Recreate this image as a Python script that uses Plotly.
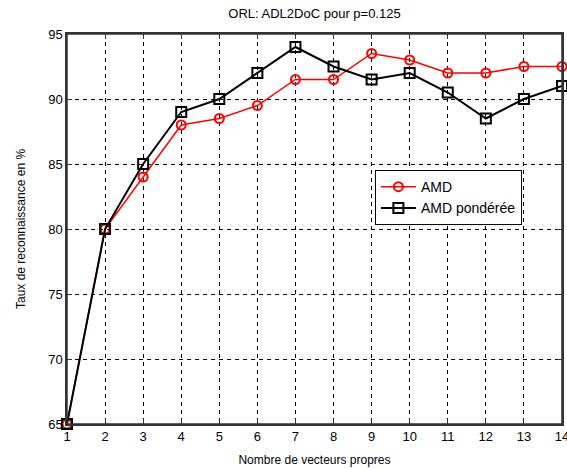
import plotly.graph_objects as go

x_vals = list(range(1, 15))
amd = [65, 80, 84, 88, 88.5, 89.5, 91.5, 91.5, 93.5, 93, 92, 92, 92.5, 92.5]
amd_pond = [65, 80, 85, 89, 90, 92, 94, 92.5, 91.5, 92, 90.5, 88.5, 90, 91]
x_ticks = list(range(1, 15))
y_ticks = [65, 70, 75, 80, 85, 90, 95]

fig = go.Figure()
fig.add_trace(go.Scatter(
    x=x_vals, y=amd, mode="lines+markers", name="AMD",
    line=dict(color="red", width=1.5),
    marker=dict(symbol="circle-open", size=9, color="red", line=dict(width=2, color="red")),
    cliponaxis=False,
))
fig.add_trace(go.Scatter(
    x=x_vals, y=amd_pond, mode="lines+markers", name="AMD pondérée",
    line=dict(color="black", width=2),
    marker=dict(symbol="square-open", size=10, color="black", line=dict(width=2, color="black")),
    cliponaxis=False,
))

axis_common = dict(
    showline=True, linecolor="#333333", linewidth=1.5, mirror="ticks",
    ticks="inside", ticklen=5, tickcolor="#333333",
    showgrid=True, gridcolor="black", griddash="4px,4px", gridwidth=1,
    zeroline=False, automargin=False, ticklabeloverflow="allow",
    tickfont=dict(family="Liberation Sans, Arial, sans-serif", size=13, color="black"),
)

fig.update_layout(
    width=567, height=469,
    paper_bgcolor="white", plot_bgcolor="white",
    margin=dict(l=67, r=5, t=34, b=45),
    font=dict(family="Liberation Sans, Arial, sans-serif", size=12, color="black"),
    title=dict(text="ORL: ADL2DoC pour p=0.125", xref="paper", x=0.5, xanchor="center",
               y=0.982, yanchor="top", font=dict(size=13)),
    xaxis=dict(range=[1, 14], tickvals=x_ticks, ticktext=[str(t) for t in x_ticks],
               title=dict(text="Nombre de vecteurs propres", standoff=12, font=dict(size=12)),
               **axis_common),
    yaxis=dict(range=[65, 95], tickvals=y_ticks, ticktext=[str(t) for t in y_ticks],
               title=dict(text="Taux de reconnaissance en %", standoff=20, font=dict(size=12)),
               ticklabelstandoff=0,
               **axis_common),
    legend=dict(x=0.622, y=0.651, xanchor="left", yanchor="top",
                bgcolor="white", bordercolor="black", borderwidth=1,
                font=dict(size=14), tracegroupgap=0, itemwidth=35),
    showlegend=True,
    shapes=[dict(type="rect", xref="paper", yref="paper", x0=0, x1=1, y0=0, y1=1,
                 line=dict(color="#333333", width=1.5), fillcolor="rgba(0,0,0,0)",
                 layer="above")],
)

fig.write_html(
    "out.html",
    config={"displayModeBar": False},
    post_script="document.body.style.margin='0';document.body.style.overflow='hidden';",
)
